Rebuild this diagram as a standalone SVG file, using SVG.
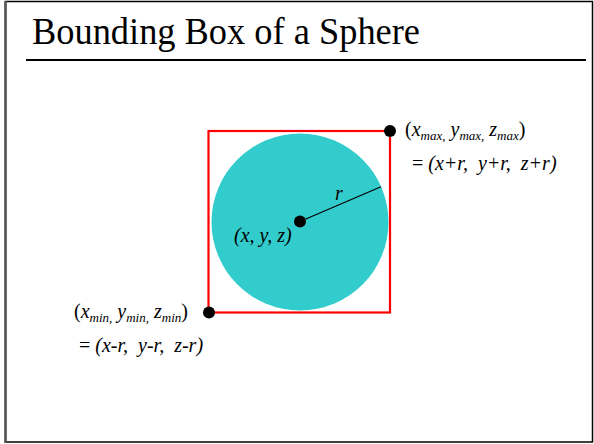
<svg xmlns="http://www.w3.org/2000/svg" width="594" height="444" viewBox="0 0 594 444">
<style>
.t{font-family:"Liberation Serif","Times New Roman",serif;fill:#000;white-space:pre}
.i{font-style:italic}
.lbl{font-size:20px}
.sub{font-size:13px;font-style:italic}
.dot{fill:#000}
</style>
<rect width="594" height="444" fill="#fff"/>
<g id="frame">
<rect x="5.5" y="1.5" width="587" height="440.5" fill="none" stroke="#000" stroke-width="1.5"/>
<line x1="5.5" y1="1" x2="5.5" y2="443" stroke="#555" stroke-width="2.5"/>
</g>
<g id="title">
<text class="t" x="32" y="44" font-size="38" textLength="388" lengthAdjust="spacingAndGlyphs">Bounding Box of a Sphere</text>
<line x1="26" y1="60" x2="586" y2="60" stroke="#000" stroke-width="2"/>
</g>
<g id="box">
<rect x="208.5" y="131" width="181.5" height="181.5" fill="none" stroke="#ff0000" stroke-width="2.2"/>
</g>
<g id="sphere">
<circle cx="300" cy="222" r="88.5" fill="#33cccc"/>
</g>
<g id="connectors">
<line x1="300" y1="221.5" x2="381" y2="186.7" stroke="#000" stroke-width="1.2"/>
</g>
<g id="center">
<circle class="dot" cx="300" cy="221.5" r="6"/>
<text class="t i lbl" x="234" y="242">(x, y, z)</text>
<text class="t i lbl" x="335" y="200">r</text>
</g>
<g id="max-corner">
<circle class="dot" cx="390" cy="131" r="6"/>
<text class="t lbl" x="405" y="136"><tspan>(</tspan><tspan class="i">x</tspan><tspan class="sub" dy="4">max,</tspan><tspan dy="-4"> </tspan><tspan class="i">y</tspan><tspan class="sub" dy="4">max,</tspan><tspan dy="-4"> </tspan><tspan class="i">z</tspan><tspan class="sub" dy="4">max</tspan><tspan dy="-4">)</tspan></text>
<text class="t lbl" x="412" y="170">= <tspan class="i">(x+r,  y+r,  z+r)</tspan></text>
</g>
<g id="min-corner">
<circle class="dot" cx="209" cy="312.5" r="6"/>
<text class="t lbl" x="74" y="318"><tspan>(</tspan><tspan class="i">x</tspan><tspan class="sub" dy="4">min,</tspan><tspan dy="-4"> </tspan><tspan class="i">y</tspan><tspan class="sub" dy="4">min,</tspan><tspan dy="-4"> </tspan><tspan class="i">z</tspan><tspan class="sub" dy="4">min</tspan><tspan dy="-4">)</tspan></text>
<text class="t lbl" x="79" y="352">= <tspan class="i">(x-r,  y-r,  z-r)</tspan></text>
</g>
</svg>
